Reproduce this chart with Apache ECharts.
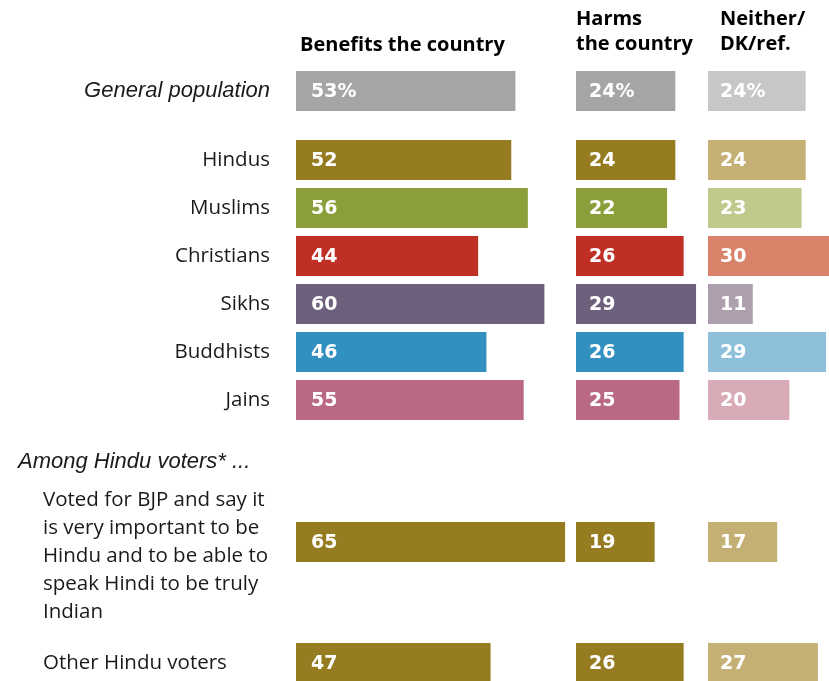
<!DOCTYPE html>
<html><head><meta charset="utf-8">
<script src="https://cdn.jsdelivr.net/npm/echarts@6/dist/echarts.min.js"></script>
<style>html,body{margin:0;padding:0;background:#fff}#c{width:829px;height:681px}</style>
</head><body><div id="c"></div>
<script>
// ---- data ----
const categories = [
  'General population', 'Hindus', 'Muslims', 'Christians', 'Sikhs', 'Buddhists', 'Jains',
  'Voted for BJP and say it\nis very important to be\nHindu and to be able to\nspeak Hindi to be truly\nIndian',
  'Other Hindu voters'
];
const benefits = [53, 52, 56, 44, 60, 46, 55, 65, 47];
const harms    = [24, 24, 22, 26, 29, 26, 25, 19, 26];
const neither  = [24, 24, 23, 30, 11, 29, 20, 17, 27];
const panelHeaders = ['Benefits the country', 'Harms\nthe country', 'Neither/\nDK/ref.'];
const subgroupHeader = 'Among Hindu voters* ...';
const groups = [[0], [1, 2, 3, 4, 5, 6], [7], [8]];

// ---- style ----
const darkColors  = ['#a5a5a5', '#967c21', '#8a9e3a', '#bf2f25', '#6e607d', '#3290c0', '#b96981', '#967c21', '#967c21'];
const lightColors = ['#c7c7c7', '#c4af75', '#c0c98c', '#d9846a', '#ae9faf', '#8ec0dc', '#d9abb7', '#c4af75', '#c4af75'];
const FONT = 'Open Sans';
const IFONT = 'Liberation Sans';
const VFONT = 'DejaVu Sans';
const values = [benefits, harms, neither];
const panelLeft = [296, 576, 708];
const panelScale = [4.14, 4.14, 4.07];
const panelWidth = [280, 130, 125];
const labelDist = [15, 13, 12];
const groupTop = [67, 136, 518, 639];
const rowH = 48;

const grids = [], xAxes = [], yAxes = [], series = [];
for (let p = 0; p < 3; p++) {
  for (let g = 0; g < groups.length; g++) {
    const idx = grids.length;
    const rows = groups[g];
    grids.push({ left: panelLeft[p], top: groupTop[g], width: panelWidth[p], height: rowH * rows.length,
                 containLabel: false, outerBoundsMode: 'none' });
    xAxes.push({ type: 'value', gridIndex: idx, min: 0, max: panelWidth[p] / panelScale[p], show: false });
    const lab = { show: p === 0, color: '#1a1a1a', fontFamily: FONT, fontSize: 20.5 };
    if (g === 0) Object.assign(lab, { fontFamily: IFONT, fontSize: 22, fontStyle: 'italic', align: 'right', margin: 26 });
    if (g === 1) Object.assign(lab, { align: 'right', margin: 26 });
    if (g === 2) Object.assign(lab, { align: 'left', margin: 253, lineHeight: 28, formatter: v => '\n' + v });
    if (g === 3) Object.assign(lab, { align: 'left', margin: 253 });
    yAxes.push({
      type: 'category', gridIndex: idx, inverse: true,
      data: rows.map(i => categories[i]),
      axisLine: { show: false }, axisTick: { show: false }, splitLine: { show: false },
      axisLabel: lab
    });
    series.push({
      type: 'bar', xAxisIndex: idx, yAxisIndex: idx, barWidth: 40, silent: true,
      data: rows.map(i => ({ value: values[p][i], itemStyle: { color: (p === 2 ? lightColors : darkColors)[i] } })),
      label: {
        show: true, position: 'insideLeft', distance: labelDist[p], offset: [0, 1],
        color: '#fff', fontFamily: VFONT, fontWeight: 'bold', fontSize: 19,
        formatter: prm => rows[prm.dataIndex] === 0 ? prm.value + '%' : String(prm.value)
      }
    });
  }
}

const headerPos = [[300, 45], [576, 31.5], [720, 31.5]];
const graphics = panelHeaders.map((t, p) => ({
  type: 'text', x: headerPos[p][0], y: headerPos[p][1],
  style: { text: t, x: 0, y: 0, verticalAlign: 'middle', fontFamily: FONT, fontWeight: 'bold',
           fontSize: 20, lineHeight: 25, fill: '#000' }
}));
graphics.push({
  type: 'text', x: 18, y: 462,
  style: { text: subgroupHeader, x: 0, y: 0, verticalAlign: 'middle', fontFamily: IFONT, fontStyle: 'italic',
           fontSize: 22, fill: '#1a1a1a' }
});

const chart = echarts.init(document.getElementById('c'), null, { renderer: 'canvas' });
chart.setOption({
  animation: false,
  backgroundColor: '#fff',
  grid: grids, xAxis: xAxes, yAxis: yAxes, series: series,
  graphic: graphics
});
</script></body></html>
